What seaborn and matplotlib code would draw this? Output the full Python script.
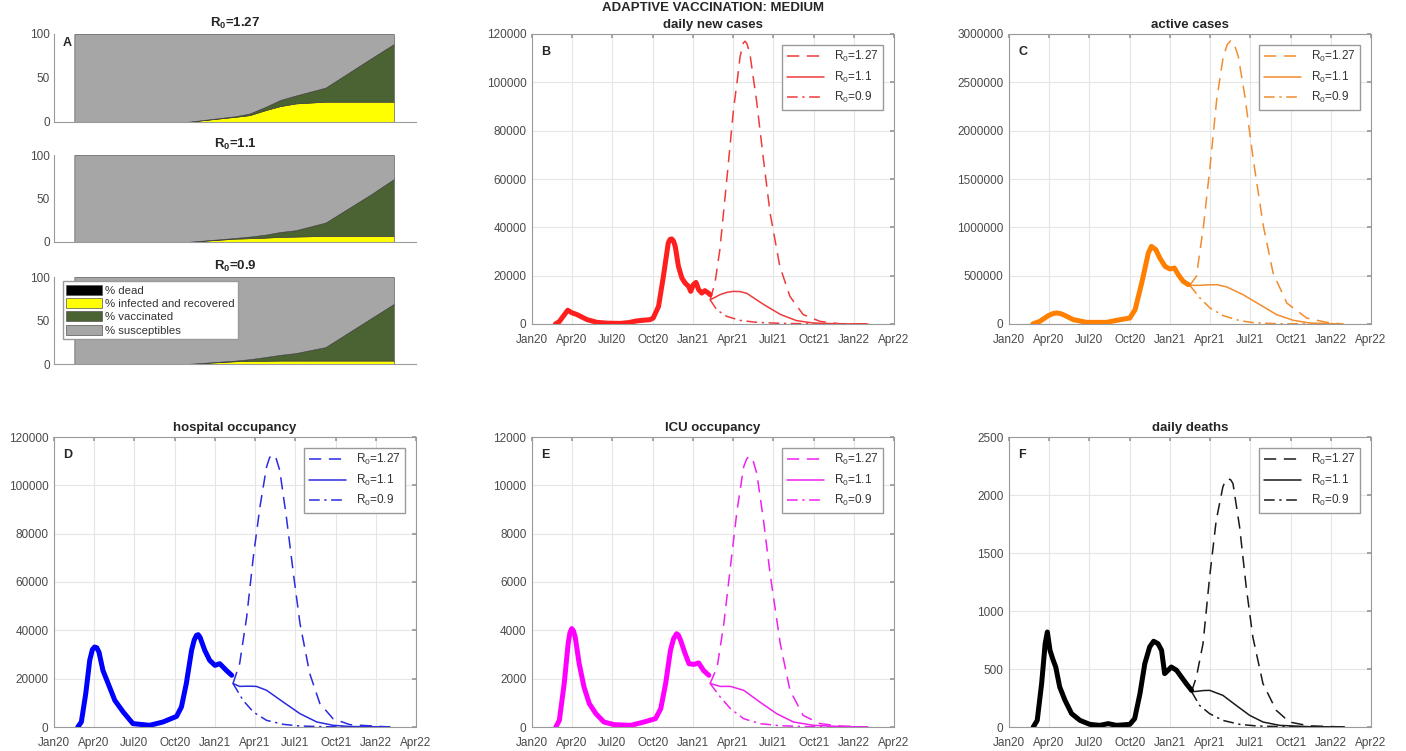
import numpy as np
import pandas as pd
import matplotlib
matplotlib.use("Agg")
import matplotlib.pyplot as plt
import matplotlib.dates as mdates
from matplotlib.patches import Patch
from matplotlib.ticker import MultipleLocator, FuncFormatter
import seaborn as sns

# ---------------- data ----------------
scenario_labels = ["R$_0$=1.27", "R$_0$=1.1", "R$_0$=0.9"]
t0 = pd.Timestamp("2020-01-01")

# Panel A: stacked composition (% of population)
area_x = [0.45, 1, 2, 2.92, 4, 4.32, 4.68, 5, 5.34, 6, 7, 7.51]
a_titles = ["1.27", "1.1", "0.9"]
a_dead = [
    [0, 0, 0, 0, 0.03, 0.04, 0.05, 0.06, 0.07, 0.08, 0.08, 0.08],
    [0, 0, 0, 0, 0.02, 0.03, 0.03, 0.04, 0.04, 0.05, 0.05, 0.05],
    [0, 0, 0, 0, 0.02, 0.02, 0.03, 0.03, 0.03, 0.04, 0.04, 0.04],
]
a_infected = [
    [0, 0, 0, 0, 5.8, 7.7, 13.5, 18, 21, 23, 23, 23],
    [0, 0, 0, 0, 3.8, 4.3, 5.0, 5.8, 6.2, 6.9, 6.9, 6.9],
    [0, 0, 0, 0, 3.1, 3.4, 3.7, 3.9, 3.9, 3.9, 3.9, 3.9],
]
a_vaccinated = [
    [0, 0, 0, 0, 0.7, 1.9, 3.8, 7.0, 9.0, 16.0, 49.0, 65.5],
    [0, 0, 0, 0, 0.8, 1.9, 3.5, 5.7, 7.3, 15.4, 47.7, 65.4],
    [0, 0, 0, 0, 0.8, 2.1, 4.3, 6.6, 8.6, 15.5, 48.4, 65.1],
]
a_legend = ["% dead", "% infected and recovered", "% vaccinated", "% susceptibles"]

# Panel B: daily new cases (days since 2020-01-01)
b_hist_day = [53, 62, 70, 81, 90, 102, 114, 125, 147, 170, 200, 220, 238, 255, 268, 275, 287, 298,
              309, 313, 317, 321, 325, 332, 340, 347, 355, 360, 366, 372, 378, 385, 392, 400, 404]
b_hist_val = [0, 1000, 3000, 5700, 4700, 3900, 2800, 1800, 700, 350, 250, 600, 1300, 1600, 1800,
              2500, 7300, 19700, 33500, 35000, 35200, 34300, 32000, 23900, 19000, 17000, 15600,
              13500, 16300, 17200, 14200, 12800, 13800, 12800, 12100]
b_r127_day = [404, 415, 426, 441, 457, 466, 472, 479, 483, 487, 494, 501, 509, 525, 540, 562, 585,
              615, 653, 698, 762]
b_r127_val = [10000, 17000, 30700, 58300, 88700, 101500, 110700, 116200, 117000, 116200, 112100,
              103000, 92800, 68000, 45900, 23900, 11400, 3900, 1100, 100, 0]
b_r11_day = [404, 426, 442, 457, 472, 487, 526, 564, 600, 638, 700, 762]
b_r11_val = [10000, 12100, 13100, 13500, 13400, 12700, 8000, 3900, 1400, 400, 50, 0]
b_r09_day = [404, 419, 441, 472, 509, 562, 620, 700, 758]
b_r09_val = [10000, 5900, 3200, 1500, 700, 280, 100, 30, 0]

# Panel C: active cases
c_hist_day = [54, 70, 89, 100, 108, 116, 123, 146, 176, 221, 252, 274, 286, 301, 316, 323, 333,
              342, 354, 365, 375, 384, 395, 407]
c_hist_val = [0, 27600, 86000, 108000, 114000, 108000, 96500, 44800, 17000, 17000, 44800, 62000,
              148000, 424000, 734000, 803000, 769000, 683000, 596000, 569000, 579000, 510000,
              441000, 407000]
c_r127_day = [410, 425, 441, 456, 471, 486, 495, 503, 511, 520, 535, 554, 577, 599, 630, 675, 720,
              758]
c_r127_val = [400000, 493000, 1010000, 1631000, 2320000, 2769000, 2890000, 2931000, 2890000,
              2769000, 2355000, 1700000, 1010000, 527000, 217000, 62000, 17000, 0]
c_r11_day = [410, 433, 452, 471, 494, 531, 569, 607, 645, 682, 758]
c_r11_val = [400000, 400000, 405000, 407000, 383000, 303000, 200000, 96500, 38000, 10000, 0]
c_r09_day = [410, 433, 456, 486, 524, 554, 607, 758]
c_r09_val = [400000, 269000, 165000, 86000, 34000, 14000, 3000, 0]

# Panel D: hospital occupancy
d_hist_day = [54, 62, 72, 81, 87, 92, 97, 102, 111, 123, 138, 157, 179, 217, 247, 278, 289, 300,
              312, 318, 323, 327, 331, 342, 353, 365, 376, 391, 403]
d_hist_val = [0, 2070, 13800, 27600, 32000, 33100, 32800, 31000, 23400, 17900, 11000, 6200, 1400,
              700, 2070, 4400, 8300, 17900, 31700, 36000, 37900, 38200, 37200, 31700, 27600, 25500,
              26200, 23400, 21400]
d_r127_day = [406, 421, 437, 452, 467, 482, 489, 496, 504, 512, 527, 543, 558, 580, 603, 633, 671,
              762]
d_r127_val = [18000, 26200, 45500, 70300, 91000, 107600, 111500, 112700, 111000, 106200, 86900,
              63400, 42700, 22100, 9700, 3400, 970, 0]
d_r11_day = [406, 421, 440, 459, 482, 520, 558, 596, 633, 671, 762]
d_r11_val = [18000, 16800, 16900, 16800, 15200, 10300, 5500, 2070, 700, 200, 0]
d_r09_day = [406, 429, 452, 482, 520, 558, 620, 762]
d_r09_val = [18000, 11000, 6200, 2760, 1100, 400, 100, 0]

# Panel E: ICU occupancy
e_hist_day = [54, 62, 73, 82, 86, 90, 94, 98, 107, 118, 130, 145, 163, 186, 224, 254, 280, 292,
              303, 314, 321, 328, 332, 337, 346, 356, 367, 378, 389, 401]
e_hist_val = [0, 275, 1790, 3450, 3900, 4070, 3980, 3720, 2620, 1650, 965, 550, 207, 97, 69, 207,
              345, 758, 1790, 3170, 3650, 3860, 3800, 3590, 3100, 2620, 2590, 2650, 2340, 2140]
e_r127_day = [404, 420, 435, 450, 465, 480, 487, 493, 501, 510, 525, 540, 563, 585, 615, 653, 700,
              762]
e_r127_val = [1800, 2480, 4270, 6620, 8960, 10760, 11100, 11200, 11050, 10480, 8550, 6340, 3450,
              1520, 480, 140, 40, 0]
e_r11_day = [404, 427, 450, 480, 517, 555, 593, 638, 700, 762]
e_r11_val = [1800, 1680, 1680, 1520, 1030, 550, 207, 69, 20, 0]
e_r09_day = [404, 427, 450, 480, 517, 562, 620, 762]
e_r09_val = [1800, 1240, 760, 345, 138, 55, 15, 0]

# Panel F: daily deaths
f_hist_day = [55, 64, 74, 82, 87, 93, 99, 106, 115, 127, 142, 161, 183, 206, 225, 244, 274, 285,
              297, 308, 319, 328, 338, 346, 353, 361, 368, 380, 391, 402, 414]
f_hist_val = [0, 57, 374, 718, 819, 661, 589, 517, 345, 230, 115, 57, 23, 14, 29, 14, 23, 72, 287,
              546, 690, 739, 718, 661, 460, 489, 517, 489, 431, 374, 316]
f_r127_day = [414, 425, 440, 455, 470, 485, 491, 497, 503, 508, 523, 538, 553, 576, 606, 636, 680,
              761]
f_r127_val = [305, 431, 718, 1293, 1782, 2069, 2125, 2141, 2130, 2098, 1724, 1207, 776, 374, 144,
              43, 10, 0]
f_r11_day = [414, 425, 440, 455, 485, 515, 546, 576, 614, 680, 761]
f_r11_val = [305, 307, 314, 316, 273, 187, 100, 43, 14, 3, 0]
f_r09_day = [414, 432, 455, 485, 523, 561, 620, 761]
f_r09_val = [305, 187, 115, 57, 23, 9, 3, 0]

# ---------------- style ----------------
sns.set_theme(style="white")
plt.rcParams["font.family"] = ["Liberation Sans", "DejaVu Sans"]
plt.rcParams["mathtext.fontset"] = "custom"
plt.rcParams["mathtext.rm"] = "Liberation Sans"
plt.rcParams["mathtext.it"] = "Liberation Sans:italic"
plt.rcParams["mathtext.bf"] = "Liberation Sans:bold"

W, H = 1406, 751
fig = plt.figure(figsize=(W / 100, H / 100), dpi=100)
fig.patch.set_facecolor("white")


def rect(l, t, r, b):
    return [l / W, 1 - b / H, (r - l) / W, (b - t) / H]


SPINE = "#9a9a9a"
TICKC = "#4a4a4a"
TFS = 8.5

# ---------------- panel A ----------------
a_rows = [(34, 122), (155, 242), (277, 364)]
stack_colors = ["#000000", "#ffff00", "#4b6232", "#a6a6a6"]
for i, (t, b) in enumerate(a_rows):
    ax = fig.add_axes(rect(54, t, 416, b))
    dead = np.array(a_dead[i])
    inf = np.array(a_infected[i])
    vac = np.array(a_vaccinated[i])
    sus = 100 - dead - inf - vac
    ax.stackplot(area_x, dead, inf, vac, sus, colors=stack_colors,
                 edgecolor="#3a3a3a", linewidth=0.4)
    ax.set_xlim(0, 8)
    ax.set_ylim(0, 100)
    ax.set_xticks(range(0, 9))
    ax.set_xticklabels([])
    ax.set_yticks([0, 50, 100])
    ax.tick_params(axis="both", direction="in", length=3, colors=SPINE,
                   labelcolor=TICKC, labelsize=TFS, pad=3)
    for s in ["top", "right"]:
        ax.spines[s].set_visible(False)
    for s in ["left", "bottom"]:
        ax.spines[s].set_color(SPINE)
        ax.spines[s].set_linewidth(0.8)
    ax.set_title(r"$\mathbf{R_0}$=" + a_titles[i], fontsize=9.5, fontweight="bold", pad=5)
    if i == 0:
        ax.text(0.025, 0.97, "A", transform=ax.transAxes, fontsize=9, fontweight="bold",
                va="top", ha="left")
    if i == 2:
        handles = [Patch(facecolor=c, edgecolor="#555555", linewidth=0.5) for c in stack_colors]
        leg = ax.legend(handles, a_legend, loc="upper left", bbox_to_anchor=(0.025, 0.95),
                        borderaxespad=0, fontsize=8.2, handlelength=3.1, handleheight=0.95,
                        labelspacing=0.22, handletextpad=0.3, borderpad=0.3,
                        fancybox=False, framealpha=1, edgecolor="#9a9a9a")
        for txt in leg.get_texts():
            txt.set_color("#333333")

# ---------------- line panels ----------------
def to_dates(days):
    return t0 + pd.to_timedelta(np.array(days), unit="D")


panels = [
    dict(r=(532, 34, 894, 324), letter="B", title="daily new cases", ylim=120000, step=20000,
         c_hist="#ff1f1f", c_proj="#ee3b3b",
         hist=(b_hist_day, b_hist_val),
         proj=[(b_r127_day, b_r127_val), (b_r11_day, b_r11_val), (b_r09_day, b_r09_val)]),
    dict(r=(1009, 34, 1371, 324), letter="C", title="active cases", ylim=3000000, step=500000,
         c_hist="#ff8000", c_proj="#f28c2e",
         hist=(c_hist_day, c_hist_val),
         proj=[(c_r127_day, c_r127_val), (c_r11_day, c_r11_val), (c_r09_day, c_r09_val)]),
    dict(r=(54, 437, 416, 727), letter="D", title="hospital occupancy", ylim=120000, step=20000,
         c_hist="#0000ff", c_proj="#2a2ae0",
         hist=(d_hist_day, d_hist_val),
         proj=[(d_r127_day, d_r127_val), (d_r11_day, d_r11_val), (d_r09_day, d_r09_val)]),
    dict(r=(532, 437, 894, 727), letter="E", title="ICU occupancy", ylim=12000, step=2000,
         c_hist="#ff00ff", c_proj="#f020f0",
         hist=(e_hist_day, e_hist_val),
         proj=[(e_r127_day, e_r127_val), (e_r11_day, e_r11_val), (e_r09_day, e_r09_val)]),
    dict(r=(1009, 437, 1371, 727), letter="F", title="daily deaths", ylim=2500, step=500,
         c_hist="#000000", c_proj="#1a1a1a",
         hist=(f_hist_day, f_hist_val),
         proj=[(f_r127_day, f_r127_val), (f_r11_day, f_r11_val), (f_r09_day, f_r09_val)]),
]

styles = [(0, (8, 5)), "-", (0, (7, 3, 1.5, 3))]

for p in panels:
    l, t, r, b = p["r"]
    ax = fig.add_axes(rect(l, t, r, b))
    handles = []
    for (days, vals), ls, lab in zip(p["proj"], styles, scenario_labels):
        df = pd.DataFrame({"date": to_dates(days), "value": vals})
        sns.lineplot(data=df, x="date", y="value", ax=ax, color=p["c_proj"], linewidth=1.1,
                     linestyle=ls, legend=False)
        handles.append(ax.get_lines()[-1])
    dfh = pd.DataFrame({"date": to_dates(p["hist"][0]), "value": p["hist"][1]})
    sns.lineplot(data=dfh, x="date", y="value", ax=ax, color=p["c_hist"], linewidth=3.6,
                 legend=False, zorder=3)

    ax.set_xlim(pd.Timestamp("2020-01-01"), pd.Timestamp("2022-04-01"))
    ax.set_ylim(0, p["ylim"])
    ax.xaxis.set_major_locator(mdates.MonthLocator(bymonth=[1, 4, 7, 10]))
    ax.xaxis.set_major_formatter(mdates.DateFormatter("%b%y"))
    ax.yaxis.set_major_locator(MultipleLocator(p["step"]))
    ax.yaxis.set_major_formatter(FuncFormatter(lambda v, pos: f"{int(round(v))}"))
    ax.set_xlabel("")
    ax.set_ylabel("")
    ax.grid(True, color="#e6e6e6", linewidth=0.8)
    ax.set_axisbelow(True)
    ax.tick_params(axis="both", direction="in", length=3, colors=SPINE, labelcolor=TICKC,
                   labelsize=TFS, top=True, right=True)
    ax.tick_params(axis="x", pad=7)
    ax.tick_params(axis="y", pad=4)
    for s in ax.spines.values():
        s.set_color(SPINE)
        s.set_linewidth(0.8)
    ax.set_title(p["title"], fontsize=9.5, fontweight="bold", pad=4)
    ax.text(0.025, 0.96, p["letter"], transform=ax.transAxes, fontsize=9, fontweight="bold",
            va="top", ha="left")
    leg = ax.legend(handles, scenario_labels, loc="upper right", fontsize=8.5,
                    handlelength=3.2, labelspacing=0.45, borderaxespad=0.9,
                    fancybox=False, framealpha=1, edgecolor="#9a9a9a")
    for txt in leg.get_texts():
        txt.set_color("#333333")

fig.text(713 / W, 1 - 8 / H, "ADAPTIVE VACCINATION: MEDIUM", ha="center", va="center",
         fontsize=9.5, fontweight="bold")

fig.savefig("out.png", dpi=100, facecolor="white")
